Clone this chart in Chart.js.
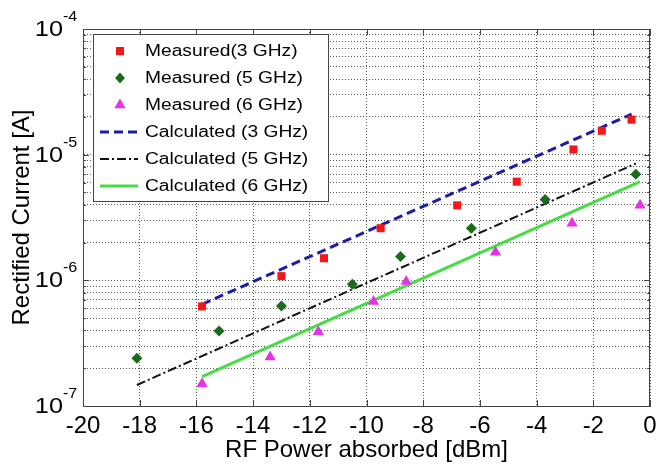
<!DOCTYPE html>
<html>
<head>
<meta charset="utf-8">
<script src="https://cdn.jsdelivr.net/npm/chart.js@4/dist/chart.umd.min.js"></script>
<style>
html, body { margin: 0; padding: 0; background: #fff; }
#wrap { width: 657px; height: 466px; }
</style>
</head>
<body>
<div id="wrap"><canvas id="canvas" width="657" height="466"></canvas></div>
<script>
// measured points
var meas3x = [-15.8, -13.0, -11.5, -9.5, -6.8, -4.7, -2.7, -1.7, -0.65];
var meas3y = [6.2e-7, 1.08e-6, 1.5e-6, 2.6e-6, 3.95e-6, 6.1e-6, 1.1e-5, 1.55e-5, 1.9e-5];
var meas5x = [-18.1, -15.2, -13.0, -10.5, -8.8, -6.3, -3.7, -0.5];
var meas5y = [2.4e-7, 3.95e-7, 6.25e-7, 9.3e-7, 1.55e-6, 2.6e-6, 4.4e-6, 7.0e-6];
var meas6x = [-15.8, -13.4, -11.7, -9.75, -8.6, -5.45, -2.75, -0.35];
var meas6y = [1.5e-7, 2.45e-7, 3.9e-7, 6.8e-7, 9.8e-7, 1.67e-6, 2.85e-6, 3.95e-6];

// calculated lines (straight in log scale, end points only)
var calc3x = [-15.8, -0.65];
var calc3y = [6.45e-7, 2.1e-5];
var calc5x = [-18.1, -0.5];
var calc5y = [1.47e-7, 8.5e-6];
var calc6x = [-15.8, -0.35];
var calc6y = [1.71e-7, 6.1e-6];

var xTicks = [-20, -18, -16, -14, -12, -10, -8, -6, -4, -2, 0];
var yDecades = [-7, -6, -5, -4];

var yTickVals = [];
yDecades.forEach(function(e, i) {
    if (i == yDecades.length - 1) { yTickVals.push(parseFloat('1e' + e)); return; }
    for (var m = 1; m <= 9; m++) yTickVals.push(parseFloat(m + 'e' + e));
});

function pts(xs, ys) {
    return xs.map(function(x, i) { return {x: x, y: ys[i]}; });
}

function marker(ctx, style, x, y, r, color) {
    ctx.fillStyle = color;
    ctx.beginPath();
    if (style == 'rect') {
        var s = r * Math.SQRT1_2;
        ctx.rect(x - s, y - s, 2 * s, 2 * s);
    } else if (style == 'rectRot') {
        ctx.moveTo(x, y - r); ctx.lineTo(x + r * 0.9, y); ctx.lineTo(x, y + r); ctx.lineTo(x - r * 0.9, y);
    } else {
        ctx.moveTo(x, y - r);
        ctx.lineTo(x + r * 0.866, y + r * 0.5);
        ctx.lineTo(x - r * 0.866, y + r * 0.5);
    }
    ctx.closePath();
    ctx.fill();
}

var decor = {
    id: 'decor',
    beforeDatasetsDraw: function(chart) {
        var ctx = chart.ctx, a = chart.chartArea;
        var xs = chart.scales.x, ys = chart.scales.y;
        ctx.save();
        ctx.strokeStyle = '#444';
        ctx.lineWidth = 1;
        ctx.beginPath();
        xTicks.forEach(function(v) {
            var px = Math.round(xs.getPixelForValue(v)) + 0.5;
            ctx.moveTo(px, a.bottom); ctx.lineTo(px, a.bottom - 6);
            ctx.moveTo(px, a.top); ctx.lineTo(px, a.top + 6);
        });
        yTickVals.forEach(function(v) {
            var py = Math.round(ys.getPixelForValue(v)) + 0.5;
            var len = Math.abs(Math.log10(v) - Math.round(Math.log10(v))) < 1e-6 ? 6 : 3;
            ctx.moveTo(a.left, py); ctx.lineTo(a.left + len, py);
            ctx.moveTo(a.right, py); ctx.lineTo(a.right - len, py);
        });
        ctx.stroke();
        ctx.strokeRect(a.left + 0.5, a.top + 0.5, a.right - a.left - 1, a.bottom - a.top);
        ctx.restore();
    },
    afterDraw: function(chart) {
        var ctx = chart.ctx, ys = chart.scales.y;
        ctx.save();
        // y tick labels 10^n
        ctx.fillStyle = '#000';
        yDecades.forEach(function(e) {
            var py = ys.getPixelForValue(parseFloat('1e' + e));
            ctx.save();
            ctx.translate(63, py + 1);
            ctx.scale(1.15, 1);
            ctx.font = '22px "Liberation Sans", Arial, sans-serif';
            ctx.textAlign = 'right';
            ctx.textBaseline = 'middle';
            ctx.fillText('10', 0, 0);
            ctx.font = '14px "Liberation Sans", Arial, sans-serif';
            ctx.textAlign = 'left';
            ctx.fillText(String(e), 0, -13);
            ctx.restore();
        });

        // legend box
        var bx = 93, by = 34, bw = 235, bh = 167;
        ctx.fillStyle = '#fff';
        ctx.fillRect(bx, by, bw, bh);
        ctx.strokeStyle = '#444';
        ctx.lineWidth = 1;
        ctx.strokeRect(bx + 0.5, by + 0.5, bw, bh);
        chart.data.datasets.forEach(function(ds, i) {
            var ly = 51 + i * 27;
            if (ds.showLine) {
                ctx.save();
                ctx.strokeStyle = ds.borderColor;
                ctx.lineWidth = ds.borderWidth;
                ctx.setLineDash(ds.borderDash || []);
                ctx.beginPath();
                ctx.moveTo(100, ly); ctx.lineTo(138, ly);
                ctx.stroke();
                ctx.restore();
            } else {
                marker(ctx, ds.pointStyle, 120, ly, ds.pointRadius, ds.backgroundColor);
            }
            ctx.save();
            ctx.translate(145, ly + 1);
            ctx.scale(1.2, 1);
            ctx.fillStyle = '#000';
            ctx.font = '16px "Liberation Sans", Arial, sans-serif';
            ctx.textBaseline = 'middle';
            ctx.fillText(ds.label, 0, 0);
            ctx.restore();
        });
        ctx.restore();
    }
};

var ctx = document.getElementById('canvas').getContext('2d');
var chart = new Chart(ctx, {
    type: 'scatter',
    data: {
        datasets: [{
            label: 'Measured(3 GHz)',
            data: pts(meas3x, meas3y),
            pointStyle: 'rect', pointRadius: 5.7, pointHoverRadius: 5.7,
            backgroundColor: '#f01818', borderWidth: 0
        }, {
            label: 'Measured (5 GHz)',
            data: pts(meas5x, meas5y),
            pointStyle: 'rectRot', pointRadius: 5.5, pointHoverRadius: 5.5,
            backgroundColor: '#1c6a1c', borderWidth: 0
        }, {
            label: 'Measured (6 GHz)',
            data: pts(meas6x, meas6y),
            pointStyle: 'triangle', pointRadius: 6.5, pointHoverRadius: 6.5,
            backgroundColor: '#e633e6', borderWidth: 0
        }, {
            label: 'Calculated (3 GHz)',
            data: pts(calc3x, calc3y),
            showLine: true, pointRadius: 0,
            borderColor: '#1c1ca6', borderWidth: 3, borderDash: [9, 5]
        }, {
            label: 'Calculated (5 GHz)',
            data: pts(calc5x, calc5y),
            showLine: true, pointRadius: 0,
            borderColor: '#111', borderWidth: 2, borderDash: [9, 3, 2, 3]
        }, {
            label: 'Calculated (6 GHz)',
            data: pts(calc6x, calc6y),
            showLine: true, pointRadius: 0,
            borderColor: '#44dd44', borderWidth: 3
        }]
    },
    options: {
        responsive: false,
        animation: false,
        layout: { padding: { top: 29, right: 7, left: 0, bottom: 0 } },
        plugins: { legend: { display: false }, tooltip: { enabled: false } },
        scales: {
            x: {
                type: 'linear', min: -20, max: 0,
                ticks: { stepSize: 2, padding: 0, color: '#000',
                         font: { family: '"Liberation Sans", Arial, sans-serif', size: 24 } },
                grid: { color: '#555', lineWidth: 1, drawTicks: true, tickLength: 6, tickColor: 'rgba(0,0,0,0)' },
                border: { dash: [1, 2], color: '#444' },
                title: { display: true, text: 'RF Power absorbed [dBm]', color: '#000',
                         padding: { top: 0, bottom: 1 },
                         font: { family: '"Liberation Sans", Arial, sans-serif', size: 24 } },
                afterFit: function(s) { s.height = 60; }
            },
            y: {
                type: 'logarithmic', min: 1e-7, max: 1e-4,
                ticks: { display: false, autoSkip: false },
                grid: { color: '#555', lineWidth: 1, drawTicks: false },
                border: { dash: [1, 2], color: '#444' },
                title: { display: true, text: 'Rectified Current [A]', color: '#000',
                         padding: { top: 8, bottom: 0 },
                         font: { family: '"Liberation Sans", Arial, sans-serif', size: 24 } },
                afterBuildTicks: function(s) {
                    s.ticks = yTickVals.map(function(v) { return {value: v}; });
                },
                afterFit: function(s) { s.width = 83; }
            }
        }
    },
    plugins: [decor]
});
</script>
</body>
</html>
